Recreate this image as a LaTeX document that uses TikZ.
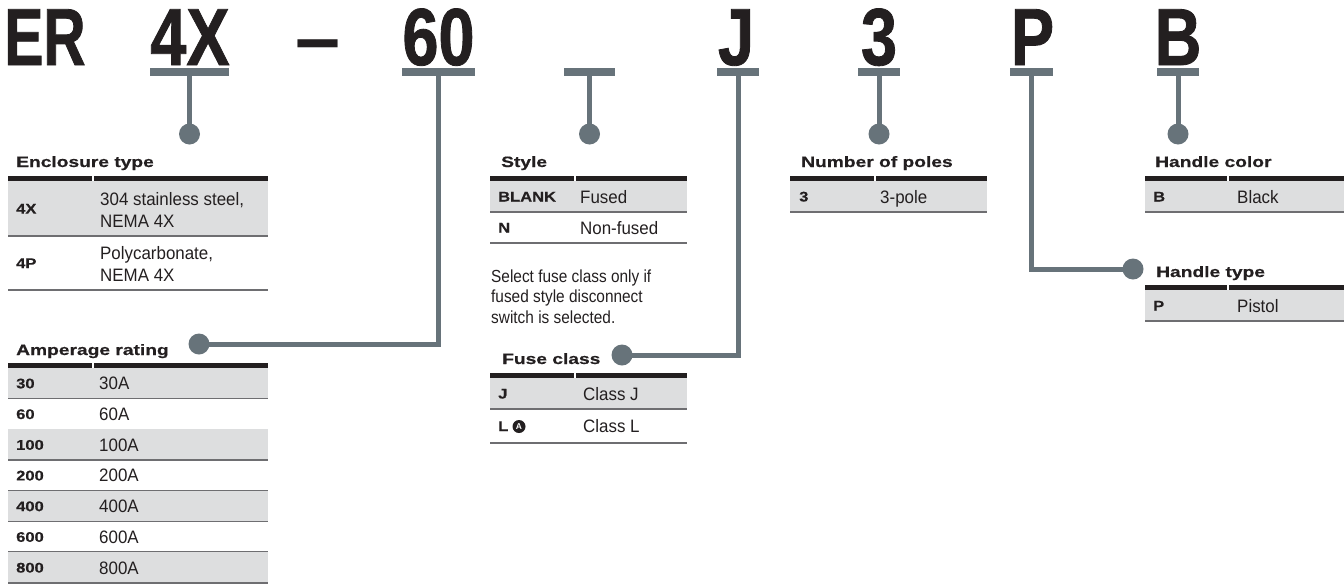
\documentclass[tikz,border=0pt]{standalone}
\usepackage{fontspec}
\newfontfamily\bigfont[FakeStretch=0.8,FakeBold=1]{Liberation Sans}
\newfontfamily\bigERfont[FakeStretch=0.72,FakeBold=1]{Liberation Sans}
\newfontfamily\headfont[FakeStretch=1.28,FakeBold=0.6]{Liberation Sans}
\newfontfamily\codefont[FakeStretch=1.18,FakeBold=0.4]{Liberation Sans}
\newfontfamily\descfont[FakeStretch=0.94]{Liberation Sans}
\newfontfamily\notefont[FakeStretch=0.88]{Liberation Sans}
\newfontfamily\plainfont{Liberation Sans}
\definecolor{slate}{RGB}{103,115,122}
\definecolor{rowgray}{RGB}{221,222,223}
\definecolor{ruleclr}{RGB}{110,110,113}
\definecolor{ink}{RGB}{35,31,32}
\tikzset{
  big/.style={font=\bigfont\bfseries\fontsize{81}{81}\selectfont, text=ink, anchor=base, inner sep=0},
  bigER/.style={font=\bigERfont\bfseries\fontsize{81}{81}\selectfont, text=ink, anchor=base, inner sep=0},
  dashtxt/.style={font=\plainfont\bfseries\fontsize{81}{81}\selectfont, text=ink, anchor=base, inner sep=0},
  hdr/.style={font=\headfont\bfseries\fontsize{15}{18}\selectfont, text=ink, anchor=base west, inner sep=0},
  codetxt/.style={font=\codefont\bfseries\fontsize{14}{16}\selectfont, text=ink, anchor=base west, inner sep=0},
  desc/.style={font=\descfont\fontsize{18}{21.5}\selectfont, text=ink, anchor=base west, inner sep=0, align=left},
  notetxt/.style={font=\notefont\fontsize{17.5}{20.5}\selectfont, text=ink, anchor=base west, inner sep=0, align=left},
  tbar/.style={fill=slate, minimum height=8, inner sep=0},
  dotnode/.style={circle, fill=slate, minimum size=21, inner sep=0},
  conn/.style={draw=slate, line width=5},
  rowline/.style={draw=ruleclr, line width=1.5},
  headrule/.style={fill=ink},
  circA/.style={circle, fill=ink, text=white, inner sep=0, minimum size=13, font=\plainfont\bfseries\fontsize{8.5}{9}\selectfont}
}
\begin{document}
\begin{tikzpicture}[x=1pt,y=-1pt]
\useasboundingbox (0,0) rectangle (1344,584);

% ---------- big code ----------
\node[bigER] (tER) at (45,65) {ER};
\node[big] (t4X) at (190,65) {4X};
\node[dashtxt] (tdash) at (318,65) {–};
\node[big] (t60) at (438.5,65) {60};
\node[big] (tJ) at (736,65) {J};
\node[big] (t3) at (879,65) {3};
\node[big] (tP) at (1032.5,65) {P};
\node[big] (tB) at (1178,65) {B};

% ---------- bars ----------
\node[tbar, minimum width=79] (b4X) at (189.5,72) {};
\node[tbar, minimum width=73] (b60) at (438.5,72) {};
\node[tbar, minimum width=51] (bSt) at (589.5,72) {};
\node[tbar, minimum width=42] (bJ) at (738,72) {};
\node[tbar, minimum width=42] (b3) at (879,72) {};
\node[tbar, minimum width=43] (bP) at (1031.5,72) {};
\node[tbar, minimum width=42] (bB) at (1178,72) {};

% ---------- dots ----------
\node[dotnode] (d4X) at (189.5,134) {};
\node[dotnode] (dSt) at (589.5,134) {};
\node[dotnode] (d3) at (879,134) {};
\node[dotnode] (dB) at (1178,134) {};
\node[dotnode] (dAmp) at (199,344) {};
\node[dotnode] (dFuse) at (622,355) {};
\node[dotnode] (dHT) at (1133,269) {};

% ---------- connectors ----------
\draw[conn] (b4X.south) -- (d4X.center);
\draw[conn] (bSt.south) -- (dSt.center);
\draw[conn] (b3.south) -- (d3.center);
\draw[conn] (bB.south) -- (dB.center);
\draw[conn] (b60.south) |- (dAmp.center);
\draw[conn] (bJ.south) |- (dFuse.center);
\draw[conn] (bP.south) |- (dHT.center);

% ---------- Enclosure type ----------
\node[hdr] (hEnc) at (16,167) {Enclosure type};
\fill[rowgray] (8,181) rectangle (268,236);
\fill[headrule] (8,176) rectangle (92,181);
\fill[headrule] (94,176) rectangle (268,181);
\draw[rowline] (8,236) -- (268,236);
\draw[rowline] (8,290) -- (268,290);
\node[codetxt] (c4X) at (16,213.6) {4X};
\node[desc] (e4X) at (100,227) {304 stainless steel,\\NEMA 4X};
\node[codetxt] (c4P) at (16,268) {4P};
\node[desc] (e4P) at (100,281) {Polycarbonate,\\NEMA 4X};

% ---------- Amperage rating ----------
\node[hdr] (hAmp) at (16,355) {Amperage rating};
\fill[headrule] (8,363) rectangle (92,368);
\fill[headrule] (94,363) rectangle (268,368);
\foreach \c/\d [count=\i from 0] in {30/30A,60/60A,100/100A,200/200A,400/400A,600/600A,800/800A}{
  \pgfmathsetmacro{\yt}{368+30.7*\i}
  \pgfmathsetmacro{\yb}{\yt+30.7}
  \pgfmathsetmacro{\ym}{\yt+15.35}
  \ifodd\i\else \fill[rowgray] (8,\yt) rectangle (268,\yb); \fi
  \draw[rowline] (8,\yb) -- (268,\yb);
  \node[codetxt] (ac\i) at (16,\ym+5) {\c};
  \node[desc] (ad\i) at (99,\ym+6.5) {\d};
}

% ---------- Style ----------
\node[hdr] (hSt) at (501,167) {Style};
\fill[rowgray] (490,181) rectangle (687,212);
\fill[headrule] (490,176) rectangle (574,181);
\fill[headrule] (576,176) rectangle (687,181);
\draw[rowline] (490,212) -- (687,212);
\draw[rowline] (490,243) -- (687,243);
\node[codetxt] (cBl) at (498,201.5) {BLANK};
\node[desc] (eBl) at (580,203) {Fused};
\node[codetxt] (cN) at (498,232.5) {N};
\node[desc] (eN) at (580,234) {Non-fused};
\node[notetxt] (note) at (491,323) {Select fuse class only if\\fused style disconnect\\switch is selected.};

% ---------- Fuse class ----------
\node[hdr] (hFu) at (502,364) {Fuse class};
\fill[rowgray] (490,378) rectangle (687,409);
\fill[headrule] (490,373) rectangle (574,378);
\fill[headrule] (576,373) rectangle (687,378);
\draw[rowline] (490,409) -- (687,409);
\draw[rowline] (490,443) -- (687,443);
\node[codetxt] (cJ) at (498,398.5) {J};
\node[desc] (eJ) at (583,400) {Class J};
\node[codetxt] (cL) at (498,431) {L};
\node[circA] (noteA) at (519,426.5) {A};
\node[desc] (eL) at (583,432.5) {Class L};

% ---------- Number of poles ----------
\node[hdr] (hPo) at (801,167) {Number of poles};
\fill[rowgray] (790,181) rectangle (987,212);
\fill[headrule] (790,176) rectangle (874,181);
\fill[headrule] (876,176) rectangle (987,181);
\draw[rowline] (790,212) -- (987,212);
\node[codetxt] (c3) at (799,201.5) {3};
\node[desc] (e3) at (880,203) {3-pole};

% ---------- Handle color ----------
\node[hdr] (hHC) at (1155,167) {Handle color};
\fill[rowgray] (1145,181) rectangle (1344,212);
\fill[headrule] (1145,176) rectangle (1227,181);
\fill[headrule] (1229,176) rectangle (1344,181);
\draw[rowline] (1145,212) -- (1344,212);
\node[codetxt] (cB) at (1153,201.5) {B};
\node[desc] (eB) at (1237,203) {Black};

% ---------- Handle type ----------
\node[hdr] (hHT) at (1156,277) {Handle type};
\fill[rowgray] (1145,290) rectangle (1344,321);
\fill[headrule] (1145,285) rectangle (1227,290);
\fill[headrule] (1229,285) rectangle (1344,290);
\draw[rowline] (1145,321) -- (1344,321);
\node[codetxt] (cP) at (1153,310.5) {P};
\node[desc] (eP) at (1237,312) {Pistol};
\end{tikzpicture}
\end{document}
